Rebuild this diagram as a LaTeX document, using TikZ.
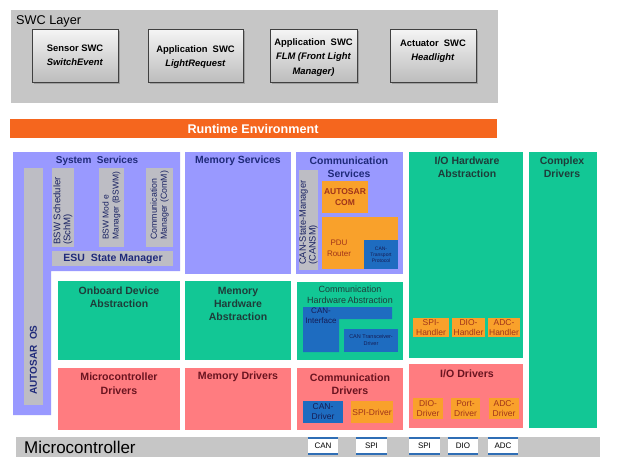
\documentclass[tikz,border=0pt]{standalone}
\usepackage{fontspec}
\setmainfont{Liberation Sans}
\usepackage{tikz}
\usetikzlibrary{shadows}

\definecolor{swcgray}{HTML}{C6C6C6}
\definecolor{rteorange}{HTML}{F5661E}
\definecolor{svcpurple}{HTML}{9999FF}
\definecolor{innergray}{HTML}{BDBDC4}
\definecolor{absgreen}{HTML}{12C795}
\definecolor{drvpink}{HTML}{FF7C80}
\definecolor{modorange}{HTML}{F9A12B}
\definecolor{canblue}{HTML}{1E6CC0}
\definecolor{pinblue}{HTML}{2F6EB5}
\definecolor{navytxt}{HTML}{1F2A7A}
\definecolor{greentxt}{HTML}{1E3D3A}
\definecolor{redtxt}{HTML}{6A1420}
\definecolor{browntxt}{HTML}{A0341A}

\begin{document}
\begin{tikzpicture}[x=1pt,y=-1pt,
    every node/.style={inner sep=0pt,align=center},
    swcbox/.style={draw=black!75,top color=black!4,bottom color=black!26,
        drop shadow={shadow xshift=1.5pt,shadow yshift=-1.5pt,opacity=.55}},
    swctxt/.style={font=\fontsize{9.4}{14.5}\selectfont\bfseries},
    purpletitle/.style={text=navytxt,font=\fontsize{10.4}{13}\selectfont\bfseries},
    greentitle/.style={text=greentxt,font=\fontsize{10.5}{13}\selectfont\bfseries},
    pinktitle/.style={text=redtxt,font=\fontsize{10.6}{13.5}\selectfont\bfseries},
    graytxt/.style={text=navytxt!80!black,rotate=90,anchor=west,align=left,
        font=\fontsize{8.8}{10}\selectfont},
    modtxt/.style={text=browntxt,font=\fontsize{8.5}{10}\selectfont},
    cantxt/.style={text=navytxt!70!black},
    pintxt/.style={font=\fontsize{8}{9}\selectfont}]

\fill[white] (0,0) rectangle (628,463);
\useasboundingbox (0,0) rectangle (628,463);

% SWC layer
\fill[swcgray] (11,10) rectangle (498,103);
\node[anchor=west,font=\fontsize{12.7}{14}\selectfont] (swclayer) at (16,21) {SWC Layer};
\draw[swcbox] (32,29) rectangle (118,82);
\draw[swcbox] (148,29) rectangle (243,82);
\draw[swcbox] (270,29) rectangle (357,82);
\draw[swcbox] (390,29) rectangle (476,82);
\node[swctxt] (sensor) at (75,55.5) {Sensor SWC\\\textit{SwitchEvent}};
\node[swctxt] (lightreq) at (195.5,57) {Application\ \ SWC\\\textit{LightRequest}};
\node[swctxt] (flm) at (313.5,57.5) {Application\ \ SWC\\\textit{FLM (Front Light}\\\textit{Manager)}};
\node[swctxt] (headlight) at (433,51) {Actuator\ \ SWC\\\textit{Headlight}};

% RTE
\fill[rteorange] (10,119) rectangle (497,138);
\node[text=white,font=\fontsize{12.6}{14}\selectfont\bfseries] (rte) at (253,129) {Runtime Environment};

% services
\fill[svcpurple] (13,152) -- (180,152) -- (180,271) -- (51,271) -- (51,415) -- (13,415) -- cycle;
\node[purpletitle,font=\fontsize{10}{12}\selectfont\bfseries] (syssvc) at (97,161) {System\ \ Services};
\fill[innergray] (24,168) rectangle (43,405);
\node[text=navytxt,rotate=90,font=\fontsize{10}{12}\selectfont\bfseries] (os) at (33.5,360) {AUTOSAR\ \ OS};
\fill[innergray] (52,168) rectangle (74,247);
\fill[innergray] (99,168) rectangle (124,247);
\fill[innergray] (146,168) rectangle (173,247);
\node[graytxt,font=\fontsize{9.6}{10}\selectfont] (schm) at (63,245) {BSW Scheduler\\(SchM)};
\node[graytxt,font=\fontsize{8.5}{10}\selectfont] (bswm) at (111.5,240) {BSW Mod e\\Manager (BSWM)};
\node[graytxt] (comm) at (159.5,240) {Communication\\Manager (ComM)};
\fill[innergray] (52,251) rectangle (173,266);
\node[text=navytxt,font=\fontsize{10.5}{12}\selectfont\bfseries] (esu) at (113,258.5) {ESU\ \ State Manager};

\fill[svcpurple] (185,152) rectangle (291,274);
\node[purpletitle] (memsvc) at (238,161) {Memory Services};

\fill[svcpurple] (296,152) rectangle (403,274);
\node[purpletitle] (comsvc) at (349,167.5) {Communication\\Services};
\fill[innergray] (299,170) rectangle (318,270);
\node[graytxt,font=\fontsize{9.3}{9.8}\selectfont] (cansm) at (308.5,265) {CAN-State-Manager\\(CANSM)};
\fill[modorange] (322,181) rectangle (368,213);
\node[modtxt,font=\fontsize{8.5}{11}\selectfont\bfseries] (com) at (345,197) {AUTOSAR\\COM};
\fill[modorange] (322,217) rectangle (398,269);
\node[modtxt,font=\fontsize{8}{11}\selectfont] (pdur) at (339,248) {PDU\\Router};
\fill[canblue] (364,240) rectangle (398,269);
\node[cantxt,font=\fontsize{5}{6}\selectfont] (cantp) at (381,254.5) {CAN-\\Transport\\Protocol};

% abstraction
\fill[absgreen] (409,152) rectangle (523,358);
\node[greentitle] (iohwa) at (467,167.5) {I/O Hardware\\Abstraction};
\fill[absgreen] (529,152) rectangle (597,428);
\node[greentitle] (cdd) at (562,167.5) {Complex\\Drivers};

\fill[absgreen] (58,281) rectangle (180,360);
\node[greentitle] (oda) at (119,297.5) {Onboard Device\\Abstraction};
\fill[absgreen] (185,281) rectangle (291,360);
\node[greentitle] (memhwa) at (238,304) {Memory\\Hardware\\Abstraction};
\fill[absgreen] (297,282) rectangle (403,360);
\node[text=greentxt,font=\fontsize{9}{11}\selectfont] (comhwa) at (350,294.5) {Communication\\Hardware\,Abstraction};
\fill[canblue] (303,307) -- (392,307) -- (392,319) -- (339,319) -- (339,352) -- (303,352) -- cycle;
\node[cantxt,font=\fontsize{8}{10.5}\selectfont] (canif) at (321,315.5) {CAN-\\Interface};
\fill[canblue] (344,329) rectangle (398,352);
\node[cantxt,font=\fontsize{5.5}{7}\selectfont] (cantrcv) at (371,340.5) {CAN Transceiver-\\Driver};

\fill[modorange] (413,318) rectangle (449,337);
\fill[modorange] (452,318) rectangle (485,337);
\fill[modorange] (488,318) rectangle (520,337);
\node[modtxt] (spihdl) at (431,327.5) {SPI-\\Handler};
\node[modtxt] (diohdl) at (468.5,327.5) {DIO-\\Handler};
\node[modtxt] (adchdl) at (504,327.5) {ADC-\\Handler};

% drivers
\fill[drvpink] (58,368) rectangle (180,430);
\node[pinktitle] (mcal) at (119,383.5) {Microcontroller\\Drivers};
\fill[drvpink] (185,368) rectangle (291,430);
\node[pinktitle] (memdrv) at (238,377) {Memory Drivers};
\fill[drvpink] (297,368) rectangle (403,430);
\node[pinktitle] (comdrv) at (350,384) {Communication\\Drivers};
\fill[canblue] (303,401) rectangle (343,423);
\node[cantxt,font=\fontsize{8.5}{10}\selectfont] (candrv) at (323,412) {CAN-\\Driver};
\fill[modorange] (351,401) rectangle (393,423);
\node[modtxt] (spidrv) at (372,412) {SPI-Driver};

\fill[drvpink] (409,364) rectangle (523,428);
\node[pinktitle] (iodrv) at (467,374) {I/O Drivers};
\fill[modorange] (413,398) rectangle (443,419);
\fill[modorange] (451,398) rectangle (480,419);
\fill[modorange] (489,398) rectangle (519,419);
\node[modtxt] (diodrv) at (428,408.5) {DIO-\\Driver};
\node[modtxt] (portdrv) at (465.5,408.5) {Port-\\Driver};
\node[modtxt] (adcdrv) at (504,408.5) {ADC-\\Driver};

% microcontroller
\fill[swcgray] (16,437) rectangle (600,457);
\node[anchor=west,font=\fontsize{17}{18}\selectfont] (mcu) at (24,447.5) {Microcontroller};
\foreach \n/\xa/\xb/\t in {pcan/308/338/CAN,pspi/356/387/SPI,pspib/409/440/SPI,pdio/448/478/DIO,padc/488/518/ADC}{
    \fill[white] (\xa,437) rectangle (\xb,455);
    \draw[pinblue,line width=2pt] (\xa,438) -- (\xb,438) (\xa,454) -- (\xb,454);
    \node[pintxt] (\n) at ({(\xa+\xb)/2},446) {\t};
}
\end{tikzpicture}
\end{document}
